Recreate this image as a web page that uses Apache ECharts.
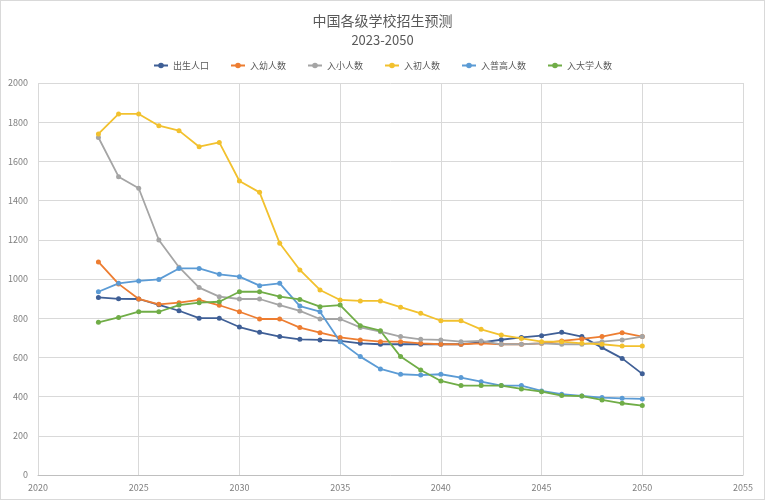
<!DOCTYPE html>
<html>
<head>
<meta charset="utf-8">
<script src="https://cdn.jsdelivr.net/npm/echarts@6/dist/echarts.min.js"></script>
<style>
html,body{margin:0;padding:0;background:#fff;}
#c{width:763px;height:498px;border:1px solid #d9d9d9;}
</style>
</head>
<body>
<div id="c"></div>
<script>
const years = [2023,2024,2025,2026,2027,2028,2029,2030,2031,2032,2033,2034,2035,2036,2037,2038,2039,2040,2041,2042,2043,2044,2045,2046,2047,2048,2049,2050];
const seriesNames = ['出生人口','入幼人数','入小人数','入初人数','入普高人数','入大学人数'];
const birth = [906,899,898,868,838,800,800,755,728,706,692,689,684,672,667,667,667,667,667,677,690,702,711,728,706,650,595,516];
const kinder = [1087,975,898,871,879,893,866,833,796,796,752,726,702,689,680,680,672,667,667,672,667,667,672,684,694,706,726,706];
const primary = [1722,1522,1463,1199,1060,956,910,898,898,867,837,796,796,753,731,706,692,689,680,684,667,667,672,667,667,680,689,706];
const junior = [1740,1842,1842,1782,1757,1675,1697,1500,1442,1182,1046,944,893,888,888,856,825,787,787,743,714,697,680,680,672,667,658,658];
const senior = [935,978,990,998,1054,1054,1024,1012,966,978,862,833,680,604,541,514,510,514,497,476,456,456,429,412,403,395,391,388];
const college = [779,804,833,833,867,879,884,935,935,910,896,859,867,762,736,604,536,480,456,456,456,439,425,405,403,383,366,354];
const colors = ['#3f5f96','#ed7d31','#a5a5a5','#f2c12e','#5b9bd5','#70ad47'];

const allData = [birth, kinder, primary, junior, senior, college];
const font = '"Noto Sans CJK SC", "Noto Sans", sans-serif';
const chart = echarts.init(document.getElementById('c'));
chart.setOption({
  animation: false,
  textStyle: {fontFamily: font},
  color: colors,
  title: [
    {text: '中国各级学校招生预测', left: 'center', top: 8, textStyle: {fontSize: 14, fontWeight: 'normal', color: '#595959', fontFamily: font}},
    {text: '2023-2050', left: 'center', top: 28, textStyle: {fontSize: 13, fontWeight: 'normal', color: '#595959', fontFamily: font}}
  ],
  legend: {
    top: 55, left: 'center', itemWidth: 14, itemHeight: 7, itemGap: 21,
    textStyle: {fontSize: 9, color: '#595959', fontFamily: font},
    data: seriesNames
  },
  grid: {left: 37, right: 21, top: 82, bottom: 24, containLabel: false},
  xAxis: {
    type: 'value', min: 2020, max: 2055, interval: 5,
    axisLine: {show: true, lineStyle: {color: '#bfbfbf'}},
    axisTick: {show: false},
    axisLabel: {color: '#7f7f7f', fontSize: 9, margin: 8, formatter: v => String(v)},
    splitLine: {show: true, lineStyle: {color: '#d9d9d9'}}
  },
  yAxis: {
    type: 'value', min: 0, max: 2000, interval: 200,
    axisLine: {show: false},
    axisTick: {show: false},
    axisLabel: {color: '#7f7f7f', fontSize: 9, margin: 10, formatter: v => String(v)},
    splitLine: {show: true, lineStyle: {color: '#d9d9d9'}}
  },
  series: seriesNames.map((n, i) => ({
    name: n, type: 'line',
    data: years.map((y, j) => [y, allData[i][j]]),
    symbol: 'circle', symbolSize: 5,
    lineStyle: {width: 1.8, color: colors[i]},
    itemStyle: {color: colors[i]}
  }))
});
</script>
</body>
</html>
